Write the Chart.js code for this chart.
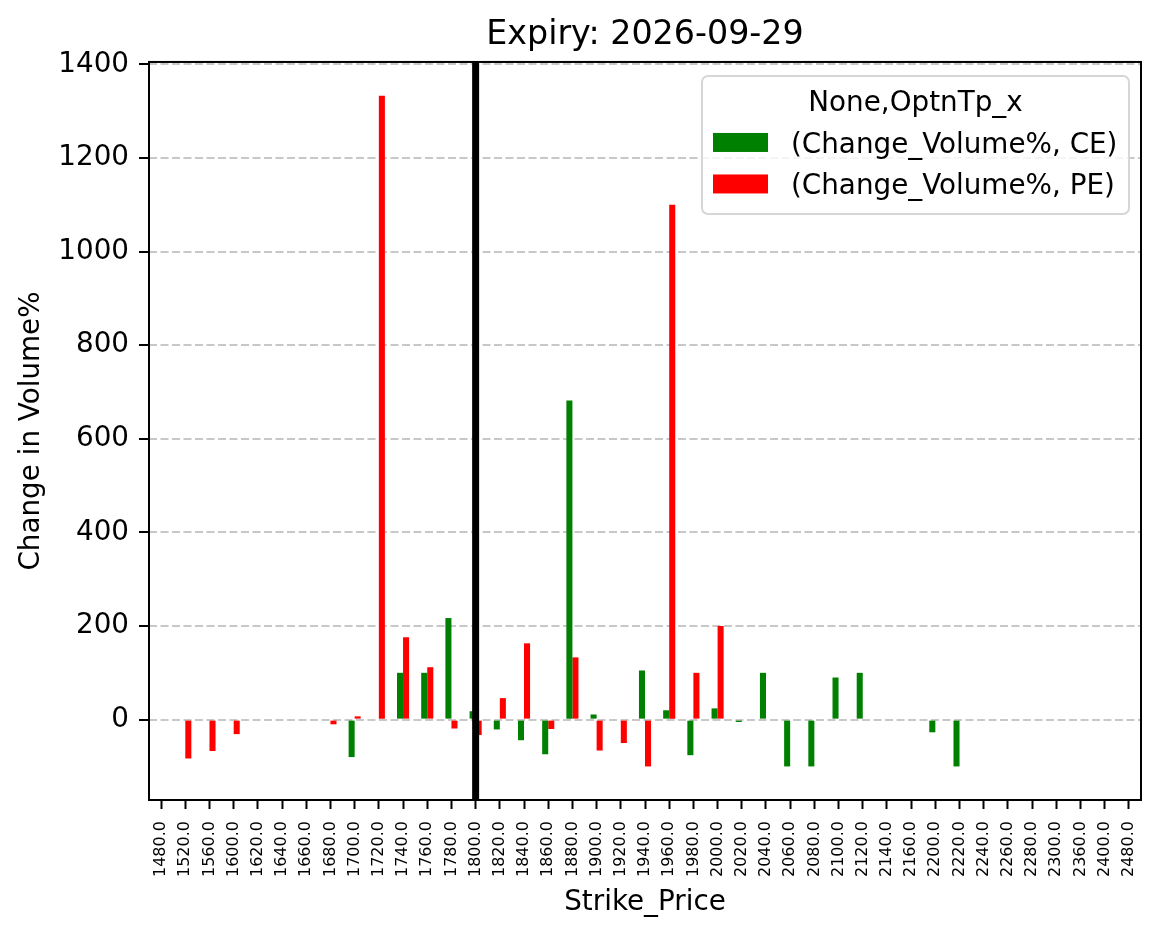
<!DOCTYPE html>
<html>
<head>
<meta charset="utf-8">
<script src="https://cdn.jsdelivr.net/npm/chart.js@4.4.1/dist/chart.umd.min.js"></script>
<style>
  html, body { margin: 0; padding: 0; background: #fff; }
  #wrap { width: 1161px; height: 939px; position: relative; }
</style>
</head>
<body>
<div id="wrap"><canvas id="chart"></canvas></div>
<script>
// strike prices (x categories)
const strikes = [1480, 1520, 1560, 1600, 1620, 1640, 1660, 1680, 1700, 1720, 1740, 1760, 1780, 1800, 1820, 1840, 1860, 1880, 1900, 1920, 1940, 1960, 1980, 2000, 2020, 2040, 2060, 2080, 2100, 2120, 2140, 2160, 2200, 2220, 2240, 2260, 2280, 2300, 2360, 2400, 2480];

// Change_Volume% for calls and puts
const ceChange = [null, null, null, null, null, null, null, null, -80, null, 100, 100, 217, 18, -21, -44, -74, 682, 11, null, 105, 20, -76, 24, -5, 100, -100, -100, 90, 100, null, null, -27, -100, null, null, null, null, null, null, null];
const peChange = [null, -83, -67, -31, null, null, null, -10, 7, 1333, 176, 112, -19, -33, 46, 163, -20, 133, -66, -50, -100, 1100, 100, 200, null, null, null, null, null, null, null, null, null, null, null, null, null, null, null, null, null];

const yTicks = [0, 200, 400, 600, 800, 1000, 1200, 1400];
const yMin = -171.7;
const yMax = 1405;

const spotStrike = 1800;
const expiry = "2026-09-29";
const legendTitle = "None,OptnTp_x";

Chart.defaults.font.family = "'DejaVu Sans', sans-serif";
Chart.defaults.color = "#000";

// spot line, axes frame and the legend box
const overlay = {
    id: "overlay",
    afterDraw(chart) {
        const { ctx, chartArea: a, scales: { x } } = chart;
        ctx.save();

        const px = x.getPixelForValue(strikes.indexOf(spotStrike));
        ctx.strokeStyle = "#000";
        ctx.lineWidth = 7;
        ctx.beginPath();
        ctx.moveTo(px, a.top);
        ctx.lineTo(px, a.bottom);
        ctx.stroke();

        ctx.lineWidth = 2;
        ctx.strokeRect(a.left, a.top, a.right - a.left, a.bottom - a.top);

        // legend
        const bx = a.left + 553, by = a.top + 14, bw = 427, bh = 138;
        ctx.beginPath();
        ctx.roundRect(bx, by, bw, bh, 6);
        ctx.fillStyle = "rgba(255,255,255,0.8)";
        ctx.fill();
        ctx.strokeStyle = "#d6d6d6";
        ctx.lineWidth = 2;
        ctx.stroke();

        ctx.font = "27.8px 'DejaVu Sans'";
        ctx.fillStyle = "#000";
        ctx.textAlign = "center";
        ctx.textBaseline = "alphabetic";
        ctx.fillText(legendTitle, bx + bw / 2, by + 35);

        ctx.textAlign = "left";
        chart.data.datasets.forEach((ds, i) => {
            const ry = by + 57 + i * 41.5;
            ctx.fillStyle = ds.backgroundColor;
            ctx.fillRect(bx + 11, ry, 55, 19);
            ctx.fillStyle = "#000";
            ctx.fillText(ds.label, bx + 89, ry + 20);
        });
        ctx.restore();
    }
};

new Chart(document.getElementById("chart"), {
    type: "bar",
    data: {
        labels: strikes.map(s => s.toFixed(1)),
        datasets: [
            { label: "(Change_Volume%, CE)", data: ceChange, backgroundColor: "#008000" },
            { label: "(Change_Volume%, PE)", data: peChange, backgroundColor: "#ff0000" }
        ]
    },
    options: {
        responsive: true,
        maintainAspectRatio: false,
        animation: false,
        categoryPercentage: 0.5,
        barPercentage: 1.0,
        layout: { padding: { top: 0, right: 20, bottom: 0, left: 0 } },
        plugins: {
            legend: { display: false },
            tooltip: { enabled: false },
            title: {
                display: true,
                text: "Expiry: " + expiry,
                fullSize: false,
                color: "#000",
                font: { size: 33.3, weight: "normal" },
                padding: { top: 15, bottom: 7 }
            }
        },
        scales: {
            x: {
                afterFit: s => { s.height = 139; },
                grid: {
                    offset: false,
                    drawOnChartArea: false,
                    tickColor: "#000",
                    tickLength: 9,
                    tickWidth: 2
                },
                border: { display: false },
                ticks: {
                    autoSkip: false,
                    minRotation: 90,
                    maxRotation: 90,
                    padding: 12,
                    color: "#000",
                    font: { size: 16 }
                },
                title: {
                    display: true,
                    text: "Strike_Price",
                    color: "#000",
                    font: { size: 27.8 },
                    padding: { top: 0, bottom: 20 }
                }
            },
            y: {
                min: yMin,
                max: yMax,
                afterFit: s => { s.width = 149; },
                afterBuildTicks: s => { s.ticks = yTicks.map(v => ({ value: v })); },
                grid: {
                    color: "#c8c8c8",
                    lineWidth: 2,
                    tickColor: "#000",
                    tickLength: 10,
                    tickWidth: 2,
                    tickBorderDash: []
                },
                border: { display: false, dash: [8, 3.5] },
                ticks: {
                    padding: 10,
                    color: "#000",
                    font: { size: 27.8 },
                    callback: v => String(v)
                },
                title: {
                    display: true,
                    text: "Change in Volume%",
                    color: "#000",
                    font: { size: 27.8 },
                    padding: { top: 15, bottom: 0 }
                }
            }
        }
    },
    plugins: [overlay]
});
</script>
</body>
</html>
